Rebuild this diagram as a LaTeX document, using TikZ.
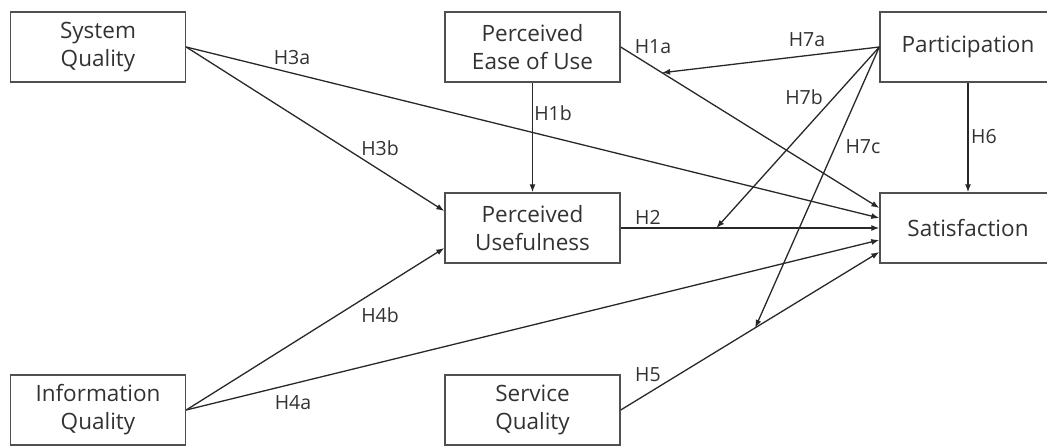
\documentclass[tikz,border=0pt]{standalone}
\usepackage{fontspec}
\setmainfont{Open Sans}
\definecolor{boxgray}{RGB}{80,80,80}
\definecolor{linegray}{RGB}{40,40,40}
\definecolor{textgray}{RGB}{50,50,50}
\usetikzlibrary{arrows.meta,positioning}

\begin{document}
\begin{tikzpicture}[x=1pt, y=-1pt,
    construct/.style={draw=boxgray, line width=1.4pt, minimum width=175pt, minimum height=70pt,
      inner sep=0pt, align=center, text=textgray, font=\fontsize{22.5}{28}\selectfont},
    link/.style={draw=linegray, line width=1.3pt, -{Latex[length=8pt, width=6pt]}},
    hyp/.style={text=textgray, inner sep=1pt, font=\fontsize{19.5}{22}\selectfont}]
  \clip (0,0) rectangle (1047,446);

  % Constructs
  \node[construct] (sysq) at (98,47) {System\\Quality};
  \node[construct] (infoq) at (98,410) {Information\\Quality};
  \node[construct] (peou) at (532.5,47) {Perceived\\Ease of Use};
  \node[construct] (pu) at (532.5,228) {Perceived\\Usefulness};
  \node[construct] (servq) at (532.5,410) {Service\\Quality};
  \node[construct, minimum width=176pt] (part) at (968,47) {Participation};
  \node[construct, minimum width=176pt] (sat) at (968,228) {Satisfaction};

  % Direct paths
  \draw[link] (peou.east) -- coordinate[pos=0.16] (m1a) ([yshift=20pt]sat.west);
  \draw[link] (peou.south) -- (pu.north);
  \draw[link] (pu.east) -- coordinate[pos=0.37] (m2) (sat.west);
  \draw[link] (sysq.east) -- ([yshift=10pt]sat.west);
  \draw[link] (sysq.east) -- ([yshift=17pt]pu.west);
  \draw[link] (infoq.east) -- ([yshift=-12pt]sat.west);
  \draw[link] (infoq.east) -- ([yshift=-20pt]pu.west);
  \draw[link] (servq.east) -- coordinate[pos=0.52] (m5) ([yshift=-24pt]sat.west);
  \draw[link] (part.south) -- (sat.north);

  % Moderating paths
  \draw[link] (part.west) -- (m1a);
  \draw[link] (part.west) -- (m2);
  \draw[link] (part.west) -- (m5);

  % Hypothesis labels
  \node[hyp] (h1a) at (653,47) {H1a};
  \node[hyp] (h1b) at (553,113) {H1b};
  \node[hyp] (h2) at (648,217) {H2};
  \node[hyp] (h3a) at (292,58) {H3a};
  \node[hyp] (h3b) at (380,148) {H3b};
  \node[hyp] (h4a) at (293,403) {H4a};
  \node[hyp] (h4b) at (380,315) {H4b};
  \node[hyp] (h5) at (648,375) {H5};
  \node[hyp] (h6) at (984,137) {H6};
  \node[hyp] (h7a) at (807,40) {H7a};
  \node[hyp] (h7b) at (804,97) {H7b};
  \node[hyp] (h7c) at (863,147) {H7c};
\end{tikzpicture}
\end{document}
